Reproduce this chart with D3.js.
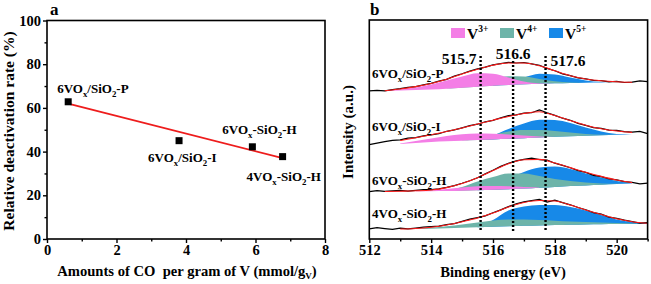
<!DOCTYPE html>
<html>
<head>
<meta charset="utf-8">
<script src="https://cdn.jsdelivr.net/npm/d3@7"></script>
<style>
  body { margin: 0; background: #fff; }
  text { font-family: "Liberation Serif", "Times New Roman", serif; font-weight: bold; fill: #000; }
</style>
</head>
<body>
<svg id="chart" width="651" height="284"></svg>
<script>
// ---------- panel a data ----------
var coAmount = [0.61, 3.80, 5.91, 6.78];
var deactRate = [62.8, 45.0, 42.2, 37.7];
var sampleNames = ["6VOx/SiO2-P", "6VOx/SiO2-I", "6VOx-SiO2-H", "4VOx-SiO2-H"];
var fitX = [0.61, 6.78];
var fitY = [62.0, 37.0];
var xTicksA = [0, 2, 4, 6, 8];
var yTicksA = [0, 20, 40, 60, 80, 100];

// ---------- panel b data ----------
var energy = [512, 512.5, 513, 513.5, 514, 514.5, 515, 515.5, 516, 516.5, 517, 517.5, 518, 518.5, 519, 519.5, 520, 520.5, 521];
var rawEnergy = [512, 512.25, 512.5, 512.75, 513, 513.25, 513.5, 513.75, 514, 514.25, 514.5, 514.75, 515, 515.25, 515.5, 515.75,
  516, 516.25, 516.5, 516.75, 517, 517.25, 517.5, 517.75, 518, 518.25, 518.5, 518.75, 519, 519.25, 519.5, 519.75, 520, 520.25, 520.5, 520.75, 521];

var rawP = [148.2, 148.7, 148.1, 149.4, 150.3, 151.6, 152.4, 154.1, 155.6, 157.8, 159.6, 162.9, 165.3, 167.9, 170.2, 171.8,
  174.1, 175.4, 176.6, 176.0, 176.5, 175.2, 173.7, 170.6, 168.2, 165.1, 163.3, 161.2, 160.2, 158.6, 158.4, 157.2, 157.6, 156.5, 156.9, 158.1, 157.4];
var fitP  = [null, 148.2, 150, 152.4, 155.5, 159.7, 165, 169.8, 173.8, 176, 176, 173.3, 168.2, 163.3, 160, 158.2, 157.2, 156.7, null];
var baseP = [null, 148.2, 148.5, 149, 149.5, 150.3, 151.3, 152.3, 153.3, 154, 154.7, 155.3, 155.7, 156, 156.3, 156.5, 156.7, 156.6, null];
var v3P = [null, 148.4, 149.5, 151.5, 154.5, 158.5, 162.5, 165.8, 165.3, 161.5, 157.5, 155.8, 155.7, null, null, null, null, null, null];
var v4P = [null, null, null, null, null, 150.5, 152.5, 155.5, 159.5, 162.8, 162.5, 160, 157.8, 156.5, 156.3, null, null, null, null];
var v5P = [null, null, null, null, null, null, null, null, 154, 157, 161.5, 165.3, 164.5, 161.5, 158.5, 157, 156.7, null, null];

var rawI = [94.4, 95.8, 97.3, 98.6, 99.2, 100.8, 101.3, 103.1, 104.2, 105.3, 107.7, 109.1, 111.2, 113.4, 114.8, 117.2,
  118.6, 121.2, 123.3, 124.2, 125.8, 126.3, 129.1, 126.2, 123.6, 120.8, 118.7, 115.6, 113.6, 111.4, 110.6, 108.9, 108.7, 107.4, 106.8, 107.6, 105.4];
var fitI  = [null, null, 98.5, 101.3, 104.3, 107.5, 111, 115, 118.8, 122.5, 125.5, 127.3, 123.5, 118.5, 113.8, 110.3, 108, 106.6, null];
var baseI = [null, null, 95, 96, 97, 97.7, 98.3, 99, 99.6, 100.2, 100.8, 101.5, 102.2, 102.8, 103.3, 103.8, 104.2, 104.5, null];
var v3I = [null, null, 95.5, 98, 100.5, 103, 104.7, 105.5, 105.3, 104.5, 103.5, 102.6, 102.2, null, null, null, null, null, null];
var v4I = [null, null, null, null, null, null, 98.5, 100.5, 104, 107.5, 109, 109, 108, 106.5, 105, 104.3, 104.2, null, null];
var v5I = [null, null, null, null, null, null, null, 99.2, 103.5, 110, 115.5, 119.3, 119, 116, 111.5, 107.5, 105, 104.5, null];

var raw6H = [47.3, 48.4, 47.6, 48.1, 48.7, 47.9, 48.6, 49.4, 49.3, 50.2, 51.6, 53.4, 55.7, 58.2, 61.3, 65.1,
  68.8, 72.6, 75.8, 78.1, 79.6, 80.8, 79.4, 78.9, 75.8, 73.6, 71.3, 68.4, 66.6, 63.7, 62.4, 60.1, 59.2, 57.3, 56.6, 55.2, 55.9];
var fit6H  = [null, 47.5, 47.8, 48.2, 49, 51.4, 55.5, 61.3, 68.5, 75.3, 79.3, 79.6, 76, 71.4, 66.8, 62.6, 59, 56.4, null];
var base6H = [null, 47.3, 47.4, 47.6, 47.8, 48, 48.3, 48.7, 49.2, 49.8, 50.5, 51.3, 52.1, 52.9, 53.6, 54.3, 55, 55.5, null];
var v3_6H = [null, null, null, 47.7, 48.5, 50, 51.5, 52.7, 53, 52.7, 52, 51.5, null, null, null, null, null, null, null];
var v4_6H = [null, null, null, null, null, 48.3, 52, 57.5, 62, 65.5, 65.5, 63, 60, 58, 56.5, 55.5, 55.3, 55.5, null];
var v5_6H = [null, null, null, null, null, null, null, 49, 53, 60, 67, 71.5, 72.5, 70, 65.5, 61.5, 58, 55.8, null];

var raw4H = [10.2, 11.3, 10.4, 9.6, 10.8, 10.1, 10.9, 11.8, 12.4, 12.9, 14.3, 15.4, 17.6, 19.8, 21.4, 23.1,
  26.3, 29.1, 32.4, 35.2, 37.1, 38.3, 39.6, 36.9, 38.8, 36.4, 34.2, 31.5, 29.3, 26.4, 24.8, 21.9, 20.6, 18.8, 17.5, 15.8, 16.4];
var fit4H  = [null, null, 10, 10.5, 11.8, 14, 17.3, 21, 26, 32, 36.5, 38.5, 38, 34, 29, 24.5, 20.2, 17.3, 15.7];
var base4H = [null, null, 9.7, 10, 10.3, 10.7, 11.2, 11.7, 12.2, 12.7, 13.2, 13.6, 14, 14.3, 14.6, 14.8, 15, 15, 15];
var v3_4H = [null, null, null, null, null, null, null, null, null, null, null, null, null, null, null, null, null, null, null];
var v4_4H = [null, null, null, 10.3, 11.3, 12.8, 14.5, 16.5, 18.5, 19.5, 19.5, 19, 18.3, 17.5, 17, 16.5, 16, 15.6, 15.3];
var v5_4H = [null, null, null, null, null, null, null, 12, 19, 28.5, 32.5, 34, 34, 32, 28.5, 24, 19.5, 17, 15.7];

var peakPos = [515.6, 516.65, 517.7];
var peakLabels = ["515.7", "516.6", "517.6"];
var stateNames = ["3+", "4+", "5+"];
var stateColors = ["#f47ee6", "#6db4a9", "#1789e8"];
var xTicksB = [512, 514, 516, 518, 520];

var svg = d3.select("#chart");
svg.append("rect").attr("width", 651).attr("height", 284).attr("fill", "#fff");

// chemical formula with subscripts (VOx, SiO2)
function chemText(sel, str, size) {
  var parts = str.split(/([x2])(?=[\/-])/);
  parts.forEach(function (p, i) {
    if (i % 2 === 1) {
      sel.append("tspan").attr("font-size", size * 0.68).attr("dy", 4).text(p);
    } else {
      sel.append("tspan").attr("font-size", size).attr("dy", i === 0 ? 0 : -4).text(p);
    }
  });
}

function frame(g, x0, y0, x1, y1) {
  g.append("rect").attr("x", x0).attr("y", y0).attr("width", x1 - x0).attr("height", y1 - y0)
    .attr("fill", "none").attr("stroke", "#000").attr("stroke-width", 1.6);
}

// =============== panel a ===============
var xa = d3.scaleLinear().domain([0, 8]).range([47, 325]);
var ya = d3.scaleLinear().domain([0, 100]).range([239, 20.5]);
var ga = svg.append("g");

ga.append("g").attr("transform", "translate(0,239)")
  .call(d3.axisBottom(xa).tickValues(xTicksA).tickFormat(d3.format("d")).tickSizeInner(4).tickSizeOuter(0).tickPadding(2));
ga.append("g").attr("transform", "translate(0,239)")
  .call(d3.axisBottom(xa).tickValues([1, 3, 5, 7]).tickFormat("").tickSizeInner(2.5).tickSizeOuter(0));
ga.append("g").attr("transform", "translate(47,0)")
  .call(d3.axisLeft(ya).tickValues(yTicksA).tickSizeInner(4).tickSizeOuter(0).tickPadding(2));
ga.append("g").attr("transform", "translate(47,0)")
  .call(d3.axisLeft(ya).tickValues([10, 30, 50, 70, 90]).tickFormat("").tickSizeInner(2.5).tickSizeOuter(0));
ga.selectAll(".domain").remove();
ga.selectAll(".tick line").attr("stroke-width", 1.4);
ga.selectAll(".tick text").attr("font-size", 14.5).attr("font-family", "Liberation Serif").attr("font-weight", "bold");
frame(ga, 47, 20.5, 325, 239);

ga.append("line")
  .attr("x1", xa(fitX[0])).attr("y1", ya(fitY[0]))
  .attr("x2", xa(fitX[1])).attr("y2", ya(fitY[1]))
  .attr("stroke", "#ee1c1c").attr("stroke-width", 1.8);

ga.selectAll("rect.pt").data(coAmount).join("rect").attr("class", "pt")
  .attr("x", function (d) { return xa(d) - 3.5; })
  .attr("y", function (d, i) { return ya(deactRate[i]) - 3.5; })
  .attr("width", 7).attr("height", 7).attr("fill", "#000");

var labelOffA = [[-11, -9], [-31, 21], [-30, -13], [-36, 24]];
sampleNames.forEach(function (n, i) {
  var t = ga.append("text")
    .attr("x", xa(coAmount[i]) + labelOffA[i][0])
    .attr("y", ya(deactRate[i]) + labelOffA[i][1]);
  chemText(t, n, 13);
});

ga.append("text").attr("x", 50).attr("y", 15).attr("font-size", 17).text("a");
ga.append("text").attr("transform", "translate(14,131) rotate(-90)").attr("text-anchor", "middle")
  .attr("font-size", 15.5).text("Relative deactivation rate (%)");
var xtA = ga.append("text").attr("x", 187).attr("y", 276).attr("text-anchor", "middle")
  .attr("font-size", 14.6).style("white-space", "pre");
xtA.append("tspan").text("Amounts of CO  per gram of V (mmol/g");
xtA.append("tspan").attr("font-size", 9).attr("dy", 3).text("V");
xtA.append("tspan").attr("dy", -3).text(")");

// =============== panel b ===============
var xb = d3.scaleLinear().domain([512, 521]).range([369.3, 647.6]);
var yb = d3.scaleLinear().domain([0, 219]).range([239, 20]);
var gb = svg.append("g");

svg.append("clipPath").attr("id", "clipB").append("rect")
  .attr("x", 369.3).attr("y", 20).attr("width", 647.6 - 369.3).attr("height", 219);

gb.append("g").attr("transform", "translate(0,239)")
  .call(d3.axisBottom(xb).tickValues(xTicksB).tickFormat(d3.format("d")).tickSizeInner(4).tickSizeOuter(0).tickPadding(2));
gb.append("g").attr("transform", "translate(0,239)")
  .call(d3.axisBottom(xb).tickValues([513, 515, 517, 519, 521]).tickFormat("").tickSizeInner(2.5).tickSizeOuter(0));
gb.selectAll(".domain").remove();
gb.selectAll(".tick line").attr("stroke-width", 1.4);
gb.selectAll(".tick text").attr("font-size", 14.5).attr("font-family", "Liberation Serif").attr("font-weight", "bold");

var plotB = gb.append("g").attr("clip-path", "url(#clipB)");

var spectra = [
  { name: sampleNames[0], raw: rawP, fit: fitP, base: baseP, comps: [v3P, v4P, v5P], ly: 78 },
  { name: sampleNames[1], raw: rawI, fit: fitI, base: baseI, comps: [v3I, v4I, v5I], ly: 131 },
  { name: sampleNames[2], raw: raw6H, fit: fit6H, base: base6H, comps: [v3_6H, v4_6H, v5_6H], ly: 185 },
  { name: sampleNames[3], raw: raw4H, fit: fit4H, base: base4H, comps: [v3_4H, v4_4H, v5_4H], ly: 218 }
];

spectra.forEach(function (s) {
  // V5+ first, V3+ last (on top)
  [2, 1, 0].forEach(function (k) {
    var comp = s.comps[k];
    var area = d3.area()
      .defined(function (d, i) { return comp[i] != null && s.base[i] != null; })
      .x(function (d) { return xb(d); })
      .y0(function (d, i) { return yb(s.base[i]); })
      .y1(function (d, i) { return yb(comp[i]); })
      .curve(d3.curveMonotoneX);
    plotB.append("path").datum(energy).attr("d", area).attr("fill", stateColors[k]);
  });
  var rawLine = d3.line()
    .x(function (d) { return xb(d); })
    .y(function (d, i) { return yb(s.raw[i]); });
  plotB.append("path").datum(rawEnergy).attr("d", rawLine)
    .attr("fill", "none").attr("stroke", "#000").attr("stroke-width", 1.2);
  var fitLine = d3.line()
    .defined(function (d, i) { return s.fit[i] != null; })
    .x(function (d) { return xb(d); })
    .y(function (d, i) { return yb(s.fit[i]); })
    .curve(d3.curveMonotoneX);
  plotB.append("path").datum(energy).attr("d", fitLine)
    .attr("fill", "none").attr("stroke", "#ff1a1a").attr("stroke-width", 1.1);

  var t = gb.append("text").attr("x", 372).attr("y", s.ly);
  chemText(t, s.name, 13);
});

// dotted peak markers
var peakTop = [183, 178, 183];
gb.selectAll("line.peak").data(peakPos).join("line").attr("class", "peak")
  .attr("x1", function (d) { return xb(d); }).attr("x2", function (d) { return xb(d); })
  .attr("y1", function (d, i) { return yb(peakTop[i]); }).attr("y2", yb(7))
  .attr("stroke", "#000").attr("stroke-width", 2.4).attr("stroke-dasharray", "2,2");

var peakAnchor = ["end", "middle", "start"];
var peakDx = [-4, 0, 5];
var peakY = [64, 59, 66];
gb.selectAll("text.peaklab").data(peakLabels).join("text").attr("class", "peaklab")
  .attr("x", function (d, i) { return xb(peakPos[i]) + peakDx[i]; })
  .attr("y", function (d, i) { return peakY[i]; })
  .attr("text-anchor", function (d, i) { return peakAnchor[i]; })
  .attr("font-size", 15.5).text(function (d) { return d; });

// legend
var legX = [451, 500, 549];
stateNames.forEach(function (n, i) {
  gb.append("rect").attr("x", legX[i]).attr("y", 28).attr("width", 14).attr("height", 10)
    .attr("fill", stateColors[i]);
  var t = gb.append("text").attr("x", legX[i] + 16).attr("y", 39).attr("font-size", 15.5);
  t.append("tspan").text("V");
  t.append("tspan").attr("font-size", 9.5).attr("dy", -7).text(n);
});

frame(gb, 369.3, 20, 647.6, 239);

gb.append("text").attr("x", 370).attr("y", 15).attr("font-size", 17).text("b");
gb.append("text").attr("transform", "translate(353,132) rotate(-90)").attr("text-anchor", "middle")
  .attr("font-size", 15).text("Intensity (a.u.)");
gb.append("text").attr("x", 503).attr("y", 277).attr("text-anchor", "middle")
  .attr("font-size", 14.6).text("Binding energy (eV)");
</script>
</body>
</html>
